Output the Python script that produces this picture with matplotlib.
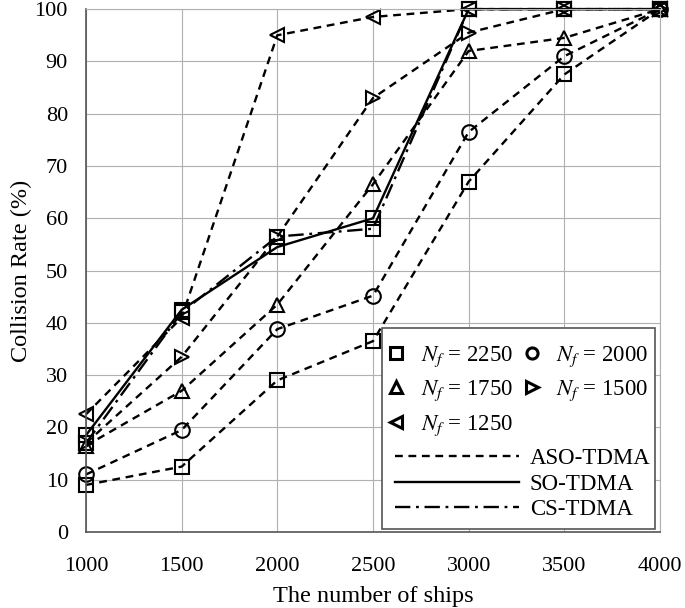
import matplotlib
matplotlib.use("Agg")
import matplotlib.pyplot as plt
from matplotlib.lines import Line2D
from matplotlib.patches import Rectangle

plt.rcParams['font.family'] = ['Liberation Serif', 'DejaVu Serif']
plt.rcParams['mathtext.fontset'] = 'stix'

ships = [1000, 1500, 2000, 2500, 3000, 3500, 4000]

aso_2250 = [9, 12.5, 29, 36.5, 67, 87.5, 100]
aso_2000 = [11, 19.5, 38.8, 45.2, 76.5, 91, 100]
aso_1750 = [16.5, 27, 43.5, 66.5, 92, 94.5, 100]
aso_1500 = [17, 33.5, 56.5, 83, 95.5, 100, 100]
aso_1250 = [22.5, 41, 95, 98.5, 100, 100, 100]
so_tdma = [18.5, 42.5, 54.5, 60, 100, 100, 100]
cs_tdma = [17, 42, 56.5, 58, 100, 100, 100]

nf_labels = ['$N_f$ = 2250', '$N_f$ = 2000', '$N_f$ = 1750', '$N_f$ = 1500', '$N_f$ = 1250']
method_labels = ['ASO-TDMA', 'SO-TDMA', 'CS-TDMA']
xticks = [1000, 1500, 2000, 2500, 3000, 3500, 4000]
yticks = [0, 10, 20, 30, 40, 50, 60, 70, 80, 90, 100]

fig = plt.figure(figsize=(6.85, 6.08), dpi=100)
ax = fig.add_axes([0.1255, 0.1250, 0.838, 0.8600])

lw = 1.7
dash = (3.3, 2.4)
dashdot = (6.5, 2.4, 1.2, 2.4)
ms = 10.5
common = dict(color='k', lw=lw, mfc='none', mec='k', mew=1.5, ms=ms, clip_on=False)

markers = ['s', 'o', '^', '>', '<']
series = [aso_2250, aso_2000, aso_1750, aso_1500, aso_1250]
for vals, m in zip(series, markers):
    ax.plot(ships, vals, marker=m, ls='--', dashes=dash, **common)
ax.plot(ships, so_tdma, marker='s', ls='-', **common)
ax.plot(ships, cs_tdma, marker='s', ls='-.', dashes=dashdot, **common)

ax.set_xlim(1000, 4000)
ax.set_ylim(0, 100)
ax.set_xticks(xticks)
ax.set_yticks(yticks)
ax.grid(True, color='#b0b0b0', lw=0.8)
ax.set_axisbelow(True)
ax.tick_params(length=0, labelsize=16)
ax.tick_params(axis='x', pad=18)
ax.tick_params(axis='y', pad=13)
for s in ['top', 'right']:
    ax.spines[s].set_color('#b0b0b0')
    ax.spines[s].set_linewidth(0.8)
for s in ['left', 'bottom']:
    ax.spines[s].set_color('#555555')
    ax.spines[s].set_linewidth(1.2)

ax.set_xlabel('The number of ships', fontsize=17.5, labelpad=7)
ax.set_ylabel('Collision Rate (%)', fontsize=17.5, labelpad=2)

# legend box
box = Rectangle((0.516, 0.006), 0.475, 0.385, transform=ax.transAxes,
                facecolor='white', edgecolor='#555555', lw=1.2, zorder=5)
ax.add_patch(box)

mh = [Line2D([], [], marker=m, ls='none', mfc='none', mec='k', mew=2.2, ms=8) for m in markers]
leg1 = ax.legend([mh[i] for i in [0, 2, 4, 1, 3]], [nf_labels[i] for i in [0, 2, 4, 1, 3]],
                 ncol=2, loc='upper left', bbox_to_anchor=(0.503, 0.377), frameon=False,
                 fontsize=16.5, handlelength=1.1, handletextpad=0.5, columnspacing=0.3,
                 labelspacing=0.45, borderaxespad=0)
leg1.set_zorder(6)
ax.add_artist(leg1)

lh = [Line2D([], [], color='k', lw=lw, ls='--', dashes=dash),
      Line2D([], [], color='k', lw=lw, ls='-'),
      Line2D([], [], color='k', lw=lw, ls='-.', dashes=dashdot)]
leg2 = ax.legend(lh, method_labels, loc='lower left', bbox_to_anchor=(0.522, 0.005),
                 frameon=False, fontsize=16.5, handlelength=5.4, handletextpad=0.5,
                 labelspacing=0.2, borderaxespad=0)
leg2.set_zorder(6)

fig.savefig('out.png', dpi=100)
